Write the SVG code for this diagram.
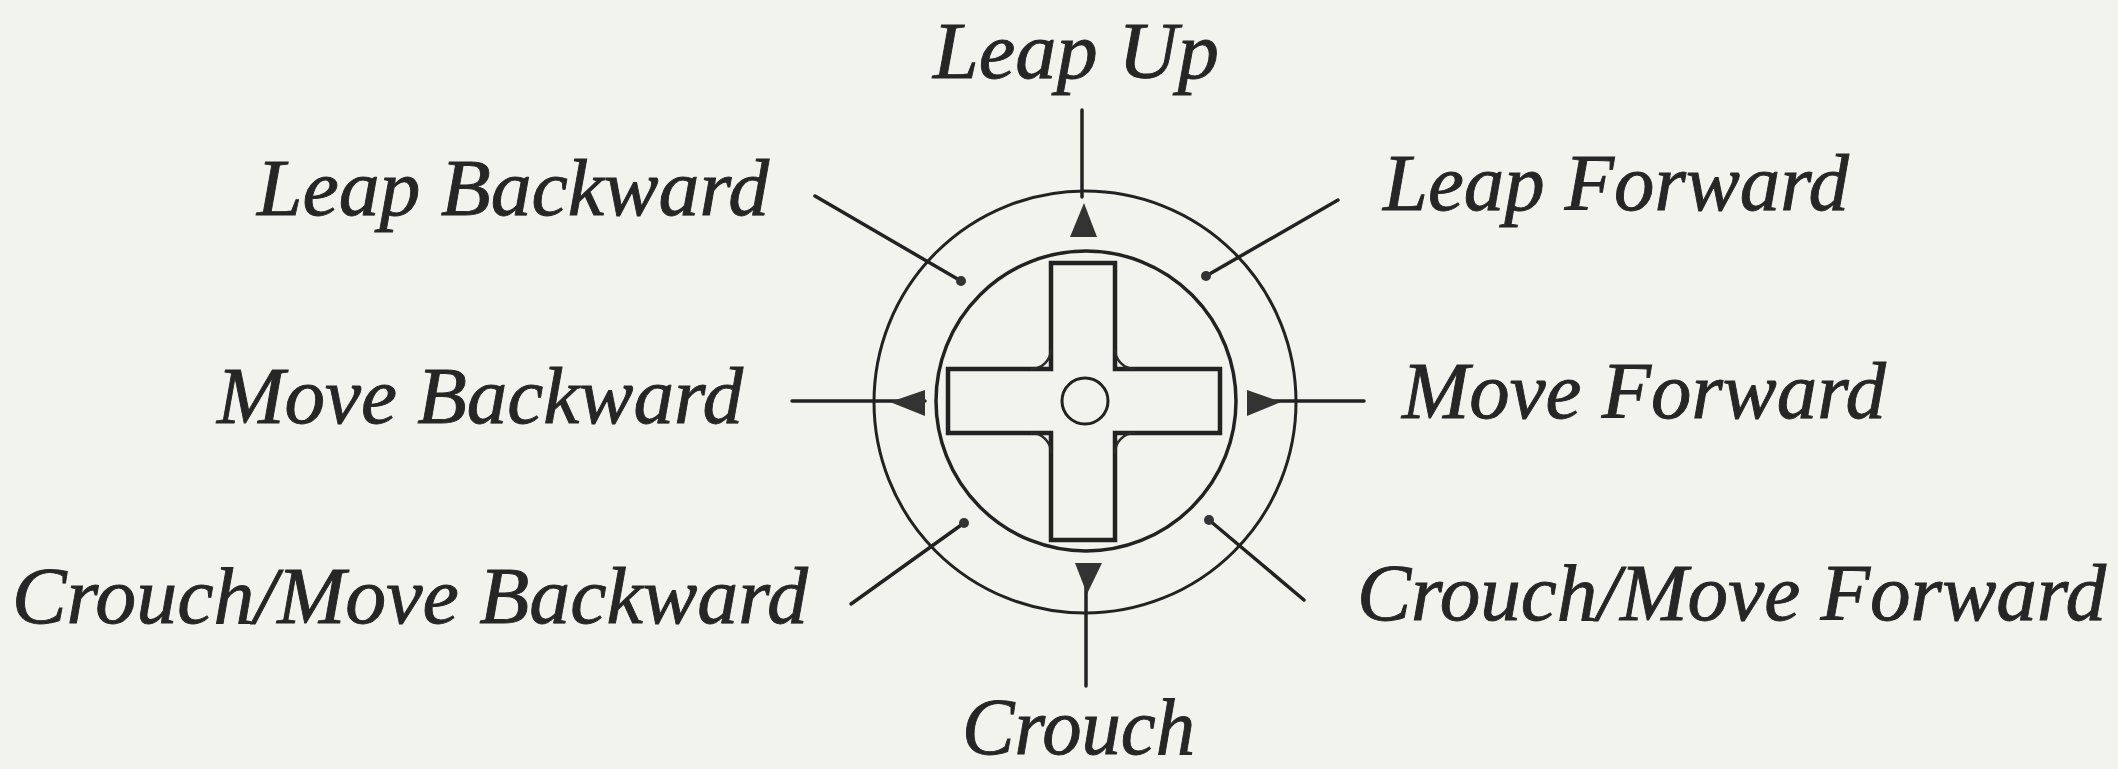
<svg xmlns="http://www.w3.org/2000/svg" width="2118" height="769" viewBox="0 0 2118 769">
<style>
.bg{fill:#f3f3ed}
.lbl{font-family:"Liberation Serif","Times New Roman",serif;font-style:italic;font-size:80px;fill:#262626;stroke:#262626;stroke-width:0.9}
.ln{stroke:#222;stroke-width:3.5;fill:none;stroke-linecap:round}
.ring{fill:none;stroke:#222}
.tri{fill:#333}
.dot{fill:#333}
.fil{fill:none;stroke:#2a2a2a;stroke-width:2.5}
</style>
<rect class="bg" x="0" y="0" width="2118" height="769"/>
<g id="dpad">
<circle class="ring" cx="1085" cy="402" r="211" stroke-width="3"/>
<circle class="ring" cx="1086" cy="401" r="150" stroke-width="3.5"/>
<path d="M1051,263 H1115 V369 H1220 V433 H1115 V540 H1051 V433 H948 V369 H1051 Z" fill="none" stroke="#222" stroke-width="4.5"/>
<path class="fil" d="M1051,349 A20,20 0 0 1 1031,369"/>
<path class="fil" d="M1115,349 A20,20 0 0 0 1135,369"/>
<path class="fil" d="M1031,433 A20,20 0 0 1 1051,453"/>
<path class="fil" d="M1135,433 A20,20 0 0 0 1115,453"/>
<circle cx="1085" cy="401" r="23" fill="none" stroke="#222" stroke-width="3"/>
</g>
<g id="connectors">
<line class="ln" x1="1082" y1="110" x2="1082" y2="197"/>
<polygon class="tri" points="1084,203 1070,237 1097,237"/>
<line class="ln" x1="792" y1="401" x2="925" y2="401"/>
<polygon class="tri" points="890,402 925,390 925,416"/>
<line class="ln" x1="1250" y1="401" x2="1364" y2="401"/>
<polygon class="tri" points="1281,402 1247,390 1247,416"/>
<line class="ln" x1="1086" y1="575" x2="1086" y2="686"/>
<polygon class="tri" points="1087,594 1075,563 1102,563"/>
<line class="ln" x1="815" y1="196" x2="961" y2="281"/>
<circle class="dot" cx="961" cy="281" r="5"/>
<line class="ln" x1="851" y1="604" x2="964" y2="523"/>
<circle class="dot" cx="964" cy="523" r="5"/>
<line class="ln" x1="1338" y1="200" x2="1206" y2="276"/>
<circle class="dot" cx="1206" cy="276" r="5"/>
<line class="ln" x1="1304" y1="600" x2="1209" y2="520"/>
<circle class="dot" cx="1209" cy="520" r="5"/>
</g>
<g id="label-leap-up"><text class="lbl" x="933" y="78" textLength="286" lengthAdjust="spacingAndGlyphs">Leap Up</text></g>
<g id="label-leap-backward"><text class="lbl" x="257" y="215" textLength="512" lengthAdjust="spacingAndGlyphs">Leap Backward</text></g>
<g id="label-move-backward"><text class="lbl" x="217" y="423" textLength="526" lengthAdjust="spacingAndGlyphs">Move Backward</text></g>
<g id="label-crouch-move-backward"><text class="lbl" x="12" y="623" textLength="796" lengthAdjust="spacingAndGlyphs">Crouch/Move Backward</text></g>
<g id="label-leap-forward"><text class="lbl" x="1383" y="210" textLength="466" lengthAdjust="spacingAndGlyphs">Leap Forward</text></g>
<g id="label-move-forward"><text class="lbl" x="1402" y="418" textLength="484" lengthAdjust="spacingAndGlyphs">Move Forward</text></g>
<g id="label-crouch-move-forward"><text class="lbl" x="1357" y="620" textLength="749" lengthAdjust="spacingAndGlyphs">Crouch/Move Forward</text></g>
<g id="label-crouch"><text class="lbl" x="962" y="754" textLength="233" lengthAdjust="spacingAndGlyphs">Crouch</text></g>
</svg>
